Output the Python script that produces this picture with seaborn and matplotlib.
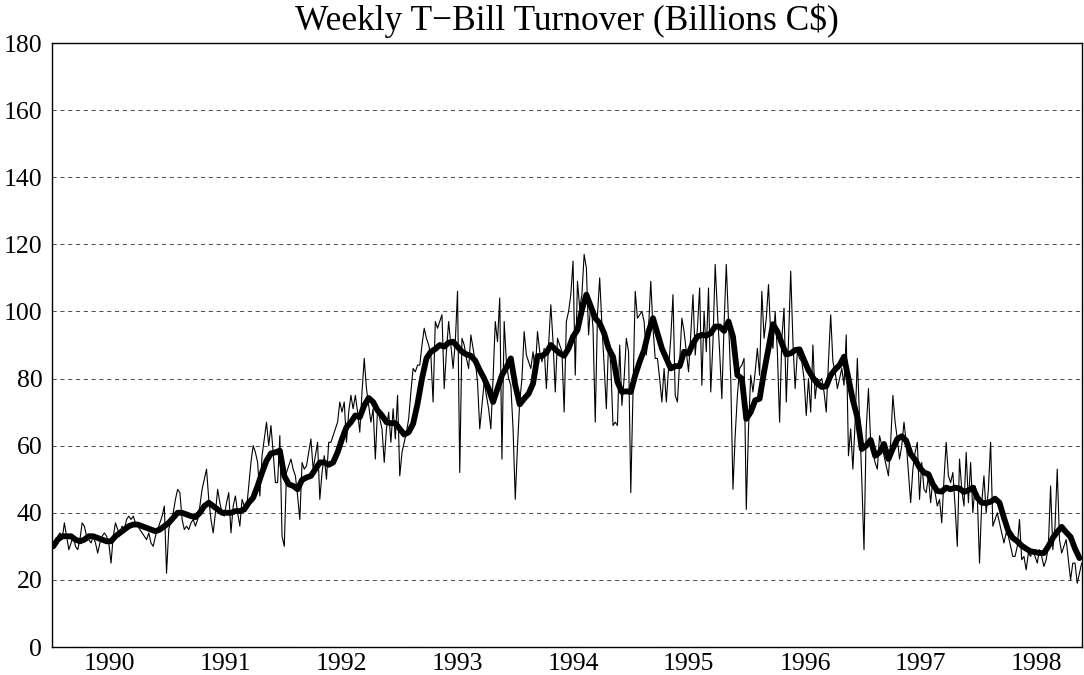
import pandas as pd
import seaborn as sns
import matplotlib.pyplot as plt
import matplotlib.dates as mdates
from matplotlib.ticker import FuncFormatter, NullFormatter

# weekly T-bill turnover, billions C$, one list per year
t1990 = [30, 31, 33, 34, 32, 37, 33, 29, 31, 33,
         30, 29, 32, 37, 36, 33, 32, 31, 33, 31,
         28, 31, 33, 34, 33, 31, 25, 33, 37, 35,
         34, 36, 35, 38, 39, 38, 39, 37, 36, 35,
         34, 33, 32, 34, 31, 30, 33, 35, 37, 39,
         42, 22]
t1991 = [35, 38, 40, 44, 47, 46, 38, 35,
         36, 35, 37, 38, 36, 38, 42, 47, 50, 53,
         44, 38, 34, 40, 47, 43, 40, 39, 43, 46,
         34, 42, 45, 40, 36, 44, 42, 41, 48, 55,
         60, 58, 55, 45, 57, 62, 67, 60, 66, 58,
         49, 49, 63, 33]
t1992 = [30, 52, 54, 56, 53, 51,
         45, 38, 55, 53, 54, 58, 62, 53, 57, 61,
         44, 52, 57, 50, 61, 61, 63, 65, 67, 73,
         70, 73, 61, 70, 75, 71, 75, 70, 64, 76,
         86, 77, 72, 67, 71, 56, 71, 68, 65, 55,
         65, 70, 61, 71, 62, 75]
t1993 = [51, 58, 61, 64,
         68, 76, 83, 82, 84, 84, 90, 95, 92, 90,
         87, 73, 97, 95, 97, 99, 77, 88, 97, 90,
         83, 91, 106, 52, 92, 90, 86, 83, 93, 89,
         85, 79, 65, 72, 79, 75, 71, 65, 80, 97,
         91, 104, 56, 97, 85, 80, 78, 65]
t1994 = [44, 60,
         73, 80, 94, 87, 85, 83, 88, 82, 94, 88,
         85, 89, 77, 90, 102, 91, 76, 92, 90, 88,
         70, 97, 100, 105, 115, 81, 109, 101, 105, 117,
         113, 93, 103, 95, 67, 99, 110, 96, 84, 71,
         91, 84, 66, 67, 66, 90, 72, 80, 92, 88]
t1995 = [46, 76, 106, 98, 99, 100, 97, 87, 95, 109,
         95, 86, 86, 80, 73, 83, 73, 83, 92, 105,
         75, 73, 85, 98, 94, 88, 82, 93, 105, 87,
         95, 107, 78, 100, 88, 107, 76, 91, 114, 100,
         88, 74, 96, 114, 97, 80, 47, 63, 75, 83,
         84, 86]
t1996 = [41, 65, 81, 76, 82, 89, 81, 106,
         92, 98, 108, 93, 89, 100, 88, 67, 92, 101,
         73, 91, 112, 91, 77, 88, 86, 85, 80, 69,
         80, 70, 90, 74, 80, 79, 80, 76, 70, 85,
         99, 85, 82, 77, 80, 83, 78, 93, 57, 65,
         53, 67, 86, 68]
t1997 = [50, 29, 65, 77, 61, 58,
         55, 53, 63, 60, 57, 54, 51, 61, 75, 67,
         62, 56, 60, 67, 61, 52, 43, 53, 58, 61,
         44, 55, 47, 46, 51, 43, 50, 46, 42, 44,
         37, 50, 61, 51, 49, 52, 42, 30, 56, 47,
         42, 58, 43, 55, 40, 48]
t1998 = [45, 25, 43, 51,
         40, 47, 61, 36, 38, 40, 37, 34, 31, 34,
         33, 30, 27, 27, 30, 38, 26, 27, 23, 28,
         27, 29, 27, 25, 29, 27, 24, 26, 30, 48,
         29, 36, 53, 32, 28, 30, 32, 26, 20, 25,
         25, 19, 22, 25]

# smoothed turnover (thick line), every second week
s1990 = [30, 32, 33, 33, 33, 32, 31.5, 32, 33, 33, 32.5, 32, 31.5,
         31.5, 33, 34, 35, 36, 36.5, 36.5, 36, 35.5, 35, 34.5, 35, 36]
s1991 = [37, 38.5, 40, 40, 39.5, 39, 38.7, 40, 42, 43, 42, 41, 40,
         40, 40, 40.5, 40.5, 41, 43, 44.5, 48, 52, 55.5, 57.7, 58, 58.5]
s1992 = [51, 48.5, 48, 47, 49.8, 50.5, 51, 53, 55, 55, 54.3, 55, 58,
         62, 65.5, 67, 69, 68.5, 72, 74.2, 73, 70.5, 69, 67, 66.7, 66.7]
s1993 = [65, 63.3, 64, 66.5, 72.5, 80, 86, 88, 88.8, 90, 89.5, 90.7, 91,
         89.5, 88, 87.2, 86.8, 85.3, 82.5, 80, 77, 73, 77, 81, 83.3, 86]
s1994 = [78, 72.3, 74, 75.5, 78.5, 86.7, 86.7, 87.7, 90, 88.7, 87.5, 86.8, 89,
         92.5, 94.5, 100.5, 105, 101.5, 98, 96.5, 93.5, 89, 86.5, 79, 76, 76.2]
s1995 = [76, 81, 85, 88.5, 94, 98, 93.5, 89, 86, 83, 83.7, 83.7, 88,
         87.5, 90.5, 92.5, 93, 92.8, 93.5, 95.5, 95.5, 94.2, 97, 92.5, 81, 80]
s1996 = [68, 70, 73.5, 74, 82, 89, 96.2, 94, 90.5, 87.2, 87.5, 88.5, 88.7,
         85.5, 82.5, 80.3, 78.5, 77.5, 77.7, 81, 82.7, 84, 86.5, 80, 73.5, 68.5]
s1997 = [59, 60, 61.7, 57, 58, 60.5, 56, 59.2, 62, 62.8, 61.5, 57.5, 55.8,
         53.5, 52, 51.5, 48.5, 46.5, 46.3, 47.5, 47, 47.5, 47.2, 46.2, 46.7, 47.5]
s1998 = [44.5, 43, 42.9, 43.3, 44.2, 43, 38.5, 34.5, 32.5, 31.5, 30.2, 29.3,
         28.5, 28.3, 28, 28, 30, 32.5, 34.3, 35.8, 34.2, 32.8, 29.3, 26.5]

weekly = t1990 + t1991 + t1992 + t1993 + t1994 + t1995 + t1996 + t1997 + t1998
smooth = s1990 + s1991 + s1992 + s1993 + s1994 + s1995 + s1996 + s1997 + s1998

dates = pd.date_range("1990-01-05", periods=len(weekly), freq="7D")
df = pd.DataFrame({"date": dates, "turnover": weekly})
sm = pd.DataFrame({"date": dates[::2][:len(smooth)], "turnover": smooth})

sns.set_style("white")
plt.rcParams['font.family'] = ['Liberation Serif', 'DejaVu Serif']
plt.rcParams['text.color'] = 'black'
plt.rcParams['xtick.color'] = 'black'
plt.rcParams['ytick.color'] = 'black'

fig = plt.figure(figsize=(10.84, 6.75), dpi=100)
ax = fig.add_axes([52 / 1084, 28 / 675, 1030 / 1084, 604 / 675])

sns.lineplot(data=df, x="date", y="turnover", color="black", lw=0.8, ax=ax)
sns.lineplot(data=sm, x="date", y="turnover", color="black", lw=4.2, ax=ax,
             solid_joinstyle="round", solid_capstyle="round")

ax.set_xlim(pd.Timestamp("1990-01-01"), pd.Timestamp("1998-11-21"))
ax.set_ylim(0, 180)
ax.set_yticks(range(0, 181, 20))
ax.set_xlabel("")
ax.set_ylabel("")

# year ticks long, quarter ticks short, year label in the middle of the year
ax.xaxis.set_major_locator(mdates.YearLocator())
ax.xaxis.set_minor_locator(mdates.MonthLocator(bymonth=[4, 7, 10]))
ax.xaxis.set_major_formatter(NullFormatter())
ax.xaxis.set_minor_formatter(FuncFormatter(
    lambda v, p: str(mdates.num2date(v).year) if mdates.num2date(v).month == 7 else ""))
ax.tick_params(axis="x", which="major", direction="in", length=8, width=0.9, color="black")
ax.tick_params(axis="x", which="minor", direction="in", length=3.6, width=0.9,
               color="black", labelsize=18.5, labelcolor="black", pad=4)
ax.tick_params(axis="y", length=0, pad=7, labelsize=18.5, labelcolor="black")

ax.yaxis.grid(True, linestyle=(0, (4, 3.5)), color="#555555", lw=0.75)
ax.set_axisbelow(True)
for s in ax.spines.values():
    s.set_color("black")
    s.set_linewidth(1.0)

ax.set_title("Weekly T\u2212Bill Turnover (Billions C$)", fontsize=25.5, pad=9, color="black")

fig.savefig("out.png", dpi=100)
